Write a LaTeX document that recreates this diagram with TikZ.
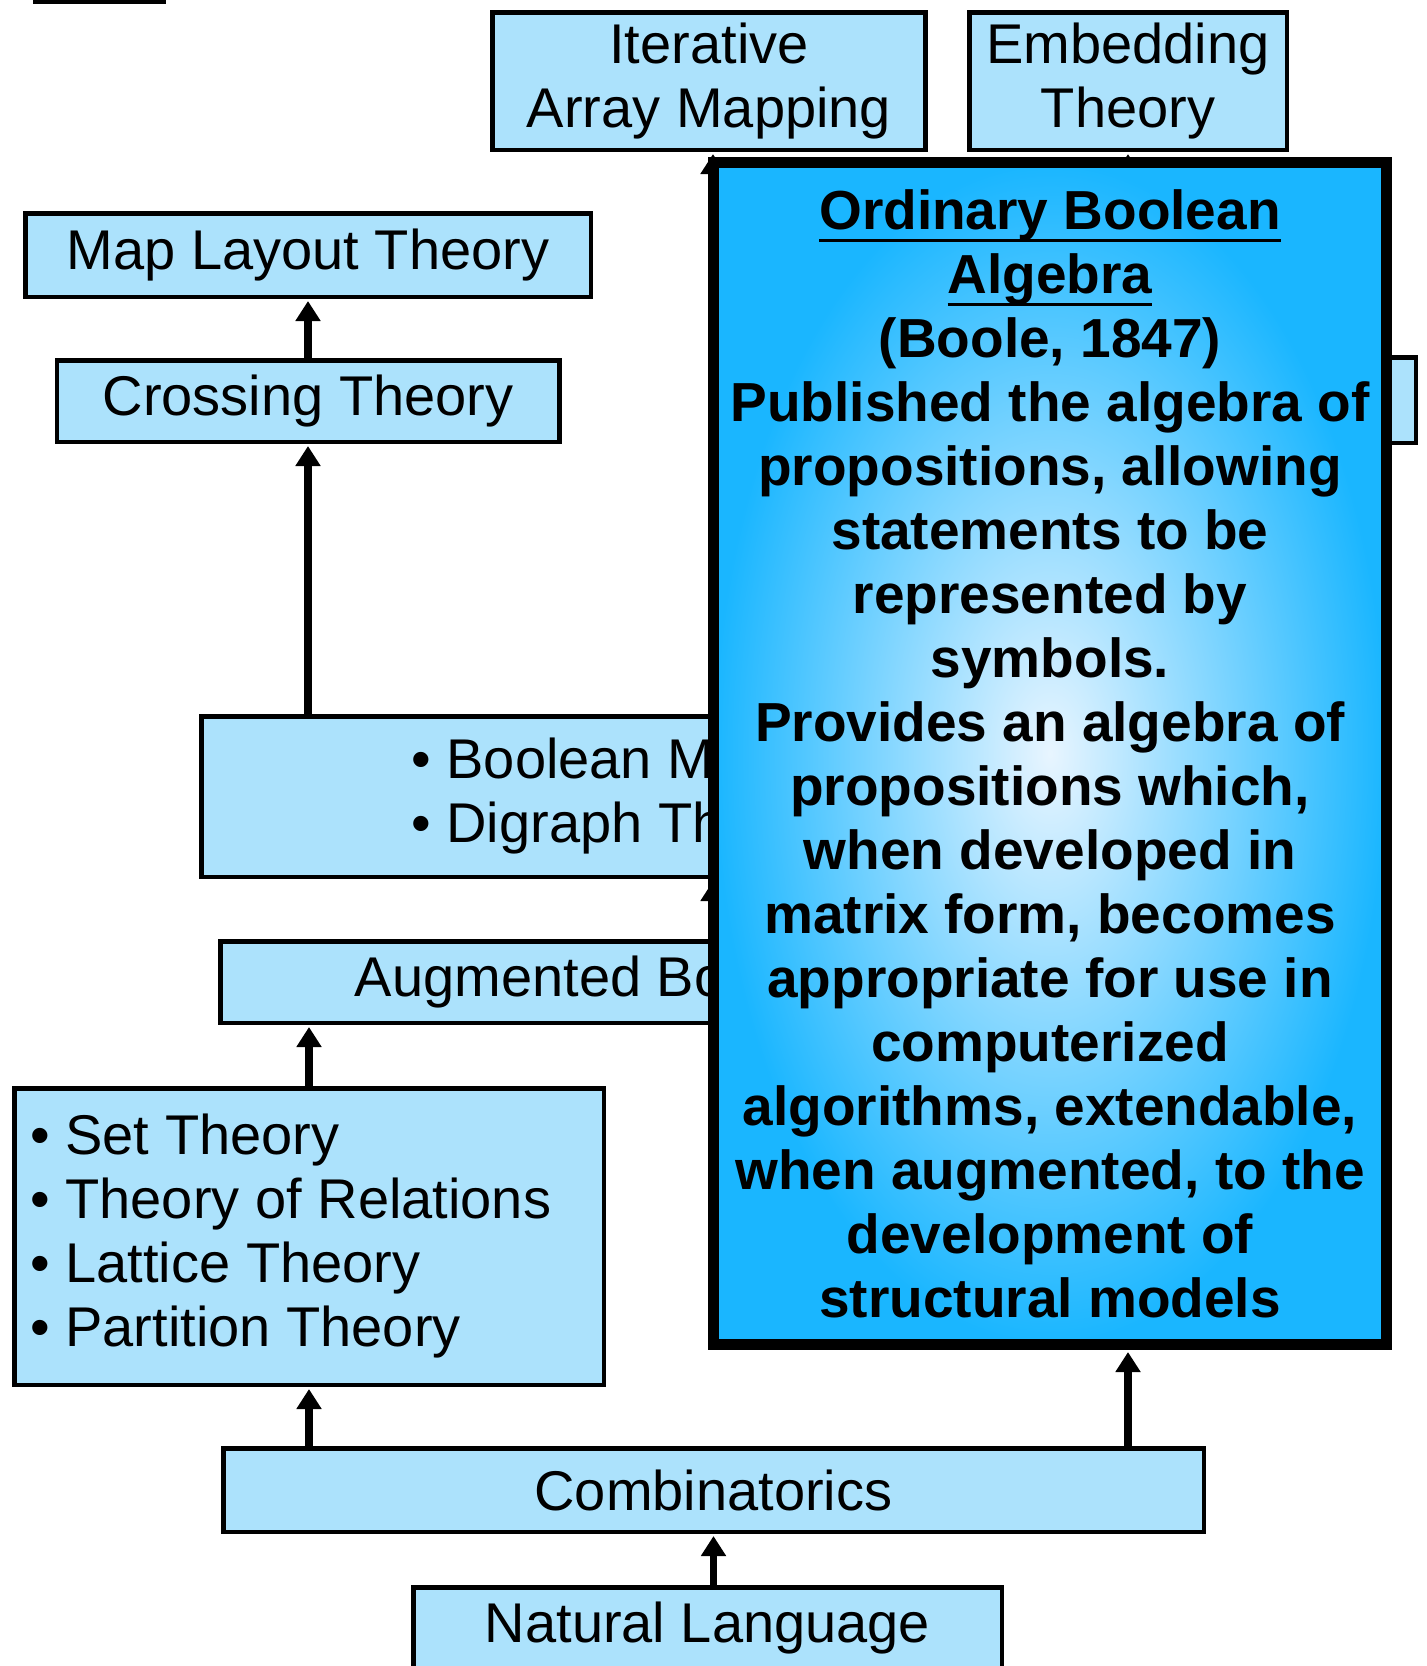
\documentclass[tikz,border=0pt]{standalone}
\usepackage{fontspec}
\setmainfont{Liberation Sans}
\usepackage{xcolor}
\usetikzlibrary{arrows.meta, positioning}
\definecolor{boite}{RGB}{172,226,252}
\definecolor{ciel}{RGB}{26,182,255}
\definecolor{clair}{RGB}{232,245,255}
\newcommand{\souligne}[1]{\setbox0\hbox{#1}\rlap{\rule[-6.5pt]{\wd0}{1.6pt}}\box0}

\begin{document}
\begin{tikzpicture}[x=0.5pt, y=-0.5pt,
    box/.style={draw, line width=2.25pt, fill=boite, inner sep=0pt, align=center,
      font=\fontsize{28}{32}\selectfont},
    liste/.style={inner sep=0pt, align=left, font=\fontsize{28}{32}\selectfont},
    fleche/.style={line width=3.75pt, -{Triangle[width=12pt, length=10pt]}, shorten >=1pt}]

  \useasboundingbox (0,0) rectangle (1427,1666);
  \clip (0,0) rectangle (1427,1666);

  % Définitions des boîtes
  \node[box, minimum width=64.25pt, minimum height=40pt] (haut) at (99.5,-38.5) {};
  \node[box, minimum width=216.5pt, minimum height=68.75pt] (iam) at (709,81) {Iterative\\Array Mapping};
  \node[box, minimum width=158.75pt, minimum height=68.75pt] (emb) at (1128,81) {Embedding\\Theory};
  \node[box, minimum width=282.75pt, minimum height=41.75pt] (mlt) at (308,255) {Map Layout Theory};
  \node[box, minimum width=251.25pt, minimum height=40.75pt] (cross) at (308,401) {Crossing Theory};
  \node[box, minimum width=287.75pt, minimum height=42.75pt] (cache) at (1128,400) {};
  \node[box, minimum width=511.75pt, minimum height=80.25pt] (bmd) at (713,796.5) {};
  \node[liste, right=106pt of bmd.west] (bmdt) {• Boolean Matrix Theory\\• Digraph Theory};
  \node[box, minimum width=492.75pt, minimum height=40.75pt] (aug) at (713,982) {Augmented Boolean Algebra};
  \node[box, minimum width=294.75pt, minimum height=148.25pt] (ens) at (309,1236.5) {};
  \node[liste, right=9pt of ens.west] (enst) {• Set Theory\\• Theory of Relations\\• Lattice Theory\\• Partition Theory};
  \node[box, minimum width=490.25pt, minimum height=41.75pt] (comb) at (713.5,1490) {Combinatorics};
  \node[box, minimum width=294.25pt, minimum height=40.75pt] (nat) at (707.5,1628) {Natural Language};

  % Définition des flèches sous la fenêtre
  \draw[fleche] (cross.north) -- (mlt.south);
  \draw[fleche] (bmd.north -| cross.south) -- (cross.south);
  \draw[fleche] (aug.north) -- (bmd.south);
  \draw[fleche] (bmd.north) -- (bmd.north |- iam.south);
  \draw[fleche] (cache.north) -- (emb.south);

  % Fenêtre
  \node[draw, line width=5.5pt, inner color=clair, outer color=ciel, inner sep=0pt,
    minimum width=336.5pt, minimum height=591pt, align=center,
    font=\bfseries\fontsize{27.5}{32}\selectfont] (boole) at (1050,753.5)
    {\souligne{Ordinary Boolean}\\\souligne{Algebra}\\(Boole, 1847)\\Published the algebra of\\
     propositions, allowing\\statements to be\\represented by\\symbols.\\
     Provides an algebra of\\propositions which,\\when developed in\\matrix form, becomes\\
     appropriate for use in\\computerized\\algorithms, extendable,\\when augmented, to the\\
     development of\\structural models};

  % Flèches restantes
  \draw[fleche] (comb.north -| cache.south) -- (boole.south -| cache.south);
  \draw[fleche] (comb.north -| ens.south) -- (ens.south);
  \draw[fleche] (ens.north) -- (aug.south -| ens.north);
  \draw[fleche] (nat.north -| comb.south) -- (comb.south);

\end{tikzpicture}
\end{document}
